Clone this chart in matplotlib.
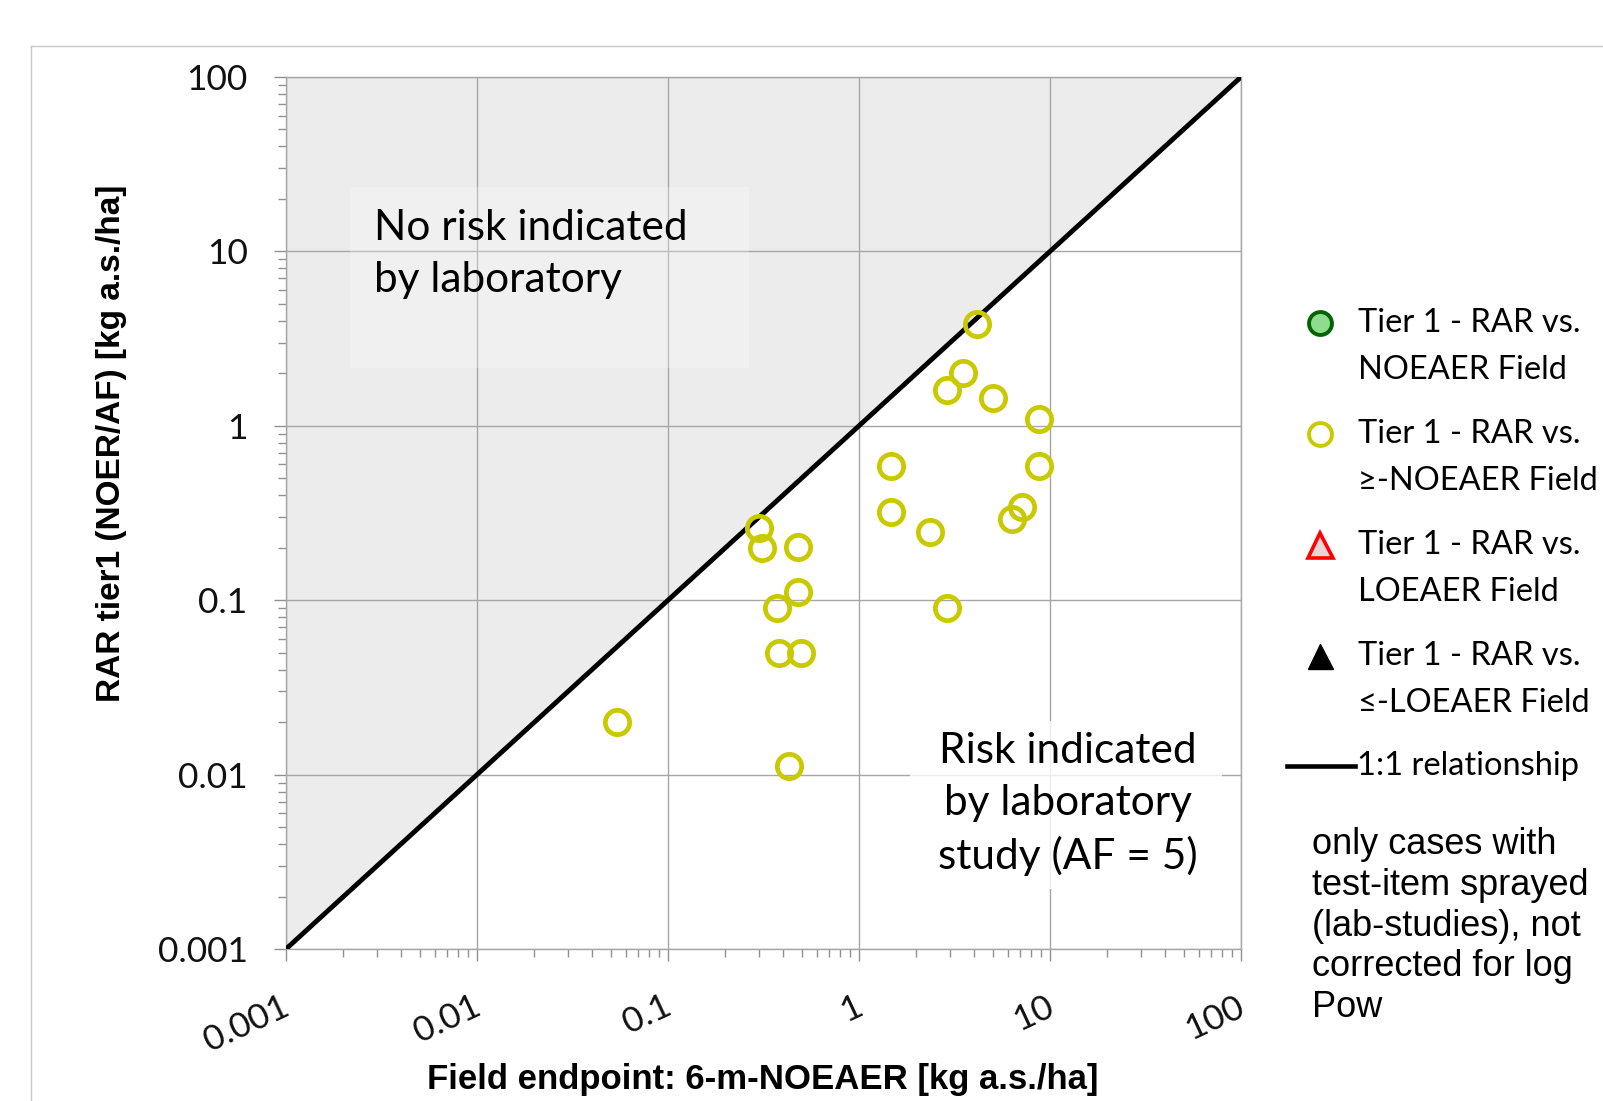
import numpy as np
import matplotlib
matplotlib.use('Agg')
import matplotlib.pyplot as plt
import matplotlib.transforms as mtransforms
from matplotlib.lines import Line2D
from matplotlib.patches import Rectangle
from matplotlib.ticker import LogLocator, NullFormatter

# values (Tier 1 - RAR vs. >=-NOEAER Field)
field_noeaer = [4.13, 3.49, 2.88, 5.01, 8.73, 8.73, 1.47, 1.47, 7.11, 6.3, 2.35,
                0.301, 0.31, 0.481, 0.481, 0.371, 2.88, 0.383, 0.495, 0.0543, 0.43]
rar_tier1 = [3.83, 2.0, 1.60, 1.44, 1.09, 0.59, 0.587, 0.32, 0.343, 0.294, 0.247,
             0.258, 0.198, 0.201, 0.1117, 0.0897, 0.0897, 0.0499, 0.0499, 0.0201, 0.0112]

decades = [0.001, 0.01, 0.1, 1, 10, 100]
tick_labels = ['0.001', '0.01', '0.1', '1', '10', '100']

legend_labels = ['Tier 1 - RAR vs.\nNOEAER Field',
                 'Tier 1 - RAR vs.\n\u2265-NOEAER Field',
                 'Tier 1 - RAR vs.\nLOEAER Field',
                 'Tier 1 - RAR vs.\n\u2264-LOEAER Field']
note = 'only cases with\ntest-item sprayed\n(lab-studies), not\ncorrected for log\nPow'

plt.rcParams['font.family'] = ['Lato', 'DejaVu Sans']

W, H = 1603, 1101
fig = plt.figure(figsize=(W / 100, H / 100), dpi=100)


def fx(px):
    return px / W


def fy(py):
    return 1 - py / H


# light frame around the whole chart
fig.add_artist(Line2D([fx(31), 1], [fy(46), fy(46)], color='#c8c8c8', lw=1))
fig.add_artist(Line2D([fx(31), fx(31)], [fy(46), 0], color='#c8c8c8', lw=1))

ax = fig.add_axes([fx(286), fy(949), (1241 - 286) / W, (949 - 77) / H])
ax.set_xscale('log')
ax.set_yscale('log')
ax.set_xlim(1e-3, 1e2)
ax.set_ylim(1e-3, 1e2)

ax.fill_between(decades, decades, 100, color='#ececec', lw=0, zorder=0)
ax.set_axisbelow(True)
ax.grid(True, which='major', color='#a6a6a6', lw=1.0)

ax.plot(decades, decades, color='black', lw=3.5, zorder=3, solid_capstyle='butt')
ax.plot(field_noeaer, rar_tier1, 'o', ms=17.5, mfc='none', mec='#c9c900', mew=3.4, zorder=4)

for s in ax.spines.values():
    s.set_color('#a6a6a6')
    s.set_linewidth(1.0)

ax.set_xticks(decades)
ax.set_xticklabels(tick_labels, rotation=25, ha='right', rotation_mode='anchor')
ax.set_yticks(decades)
ax.set_yticklabels(tick_labels)
for axis in (ax.xaxis, ax.yaxis):
    axis.set_minor_locator(LogLocator(base=10, subs=np.arange(2, 10), numticks=30))
    axis.set_minor_formatter(NullFormatter())
ax.tick_params(which='major', direction='out', length=8.6, width=1, color='#909090',
               labelsize=25.5, labelcolor='#111111')
ax.tick_params(which='minor', direction='out', length=5.5, width=1, color='#909090')
ax.tick_params(axis='y', which='major', pad=19)
ax.tick_params(axis='x', which='major', pad=21)
offset = mtransforms.ScaledTranslation(-0.05, 0, fig.dpi_scale_trans)
for lab in ax.get_xticklabels():
    lab.set_transform(lab.get_transform() + offset)

# region annotations
ax.add_patch(Rectangle((0.067, 0.666), 0.418, 0.208, transform=ax.transAxes,
                       facecolor='white', alpha=0.25, lw=0, zorder=1))
ax.text(0.092, 0.797, 'No risk indicated\nby laboratory', transform=ax.transAxes,
        fontsize=30.5, ha='left', va='center', linespacing=1.43, zorder=5)
ax.add_patch(Rectangle((0.653, 0.069), 0.327, 0.192, transform=ax.transAxes,
                       facecolor='white', alpha=0.8, lw=0, zorder=1))
ax.text(0.819, 0.166, 'Risk indicated\nby laboratory\nstudy (AF = 5)', transform=ax.transAxes,
        fontsize=30.5, ha='center', va='center', linespacing=1.44, zorder=5)

# axis titles
fig.text(fx(763), fy(1080), 'Field endpoint: 6-m-NOEAER [kg a.s./ha]', ha='center', va='center',
         fontsize=25, fontweight='bold', family='Liberation Sans')
fig.text(fx(112), fy(443), 'RAR tier1 (NOER/AF) [kg a.s./ha]', ha='center', va='center',
         rotation=90, fontsize=24, fontweight='bold', family='Liberation Sans')

# legend, drawn by hand
styles = [dict(marker='o', ms=16.5, mfc='#8fdc8f', mec='#006400', mew=2.8),
          dict(marker='o', ms=16.5, mfc='none', mec='#c9c900', mew=2.8),
          dict(marker='^', ms=18, mfc='#e6d6d6', mec='#ff0000', mew=2.6),
          dict(marker='^', ms=18, mfc='black', mec='black', mew=1)]
rows = [323, 434, 545, 656]
for st, lab, ry in zip(styles, legend_labels, rows):
    fig.add_artist(Line2D([fx(1320)], [fy(ry)], ls='none', **st))
    for i, line in enumerate(lab.split('\n')):
        fig.text(fx(1358), fy(ry + i * 47), line, fontsize=23.5, ha='left', va='center')
fig.add_artist(Line2D([fx(1287), fx(1355)], [fy(766), fy(766)], color='black', lw=3.3))
fig.text(fx(1357), fy(766), '1:1 relationship', fontsize=23.5, ha='left', va='center')

fig.text(fx(1312), fy(926), note, fontsize=26, ha='left', va='center', linespacing=1.21,
         family='Liberation Sans')

fig.savefig('out.png', dpi=100)
